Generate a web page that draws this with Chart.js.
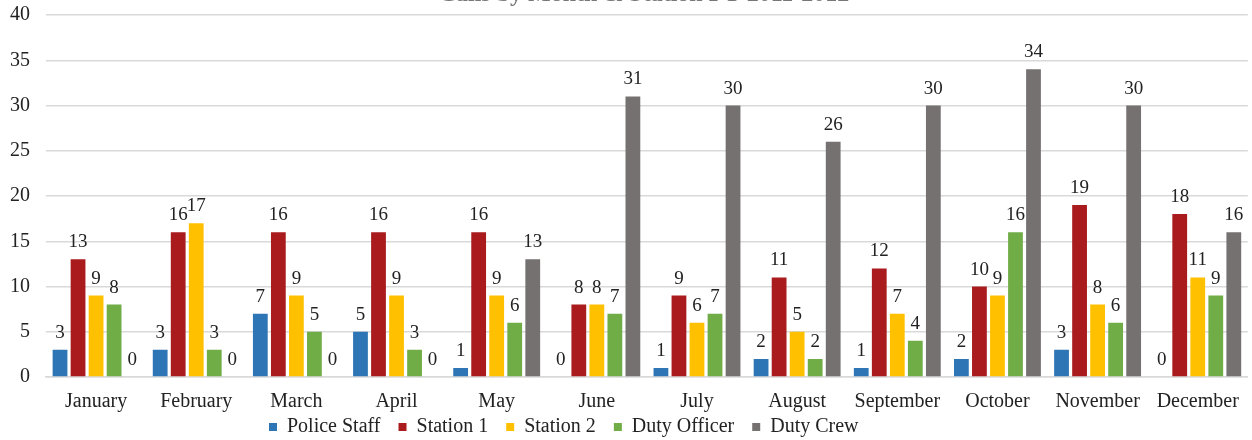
<!DOCTYPE html>
<html>
<head>
<meta charset="utf-8">
<script src="https://cdn.jsdelivr.net/npm/chart.js@4"></script>
<style>
  html, body { margin: 0; padding: 0; background: #fff; }
  #wrap { width: 1252px; height: 440px; position: relative; }
</style>
</head>
<body>
<div id="wrap"><canvas id="calls-chart"></canvas></div>
<script>
const months = ['January', 'February', 'March', 'April', 'May', 'June', 'July', 'August', 'September', 'October', 'November', 'December'];
const policeStaff = [3, 3, 7, 5, 1, 0, 1, 2, 1, 2, 3, 0];
const station1 = [13, 16, 16, 16, 16, 8, 9, 11, 12, 10, 19, 18];
const station2 = [9, 17, 9, 9, 9, 8, 6, 5, 7, 9, 8, 11];
const dutyOfficer = [8, 3, 5, 3, 6, 7, 7, 2, 4, 16, 6, 9];
const dutyCrew = [0, 0, 0, 0, 13, 31, 30, 26, 30, 34, 30, 16];
const yTicks = [0, 5, 10, 15, 20, 25, 30, 35, 40];

const serif = '"Liberation Serif", "Times New Roman", serif';

(function () {
    const ctx = document.getElementById('calls-chart');

    // numbers above every bar, zeros included
    const valueLabels = {
        id: 'valueLabels',
        afterDatasetsDraw(chart) {
            const c = chart.ctx;
            c.save();
            c.font = '19px ' + serif;
            c.fillStyle = '#222';
            c.textAlign = 'center';
            c.textBaseline = 'alphabetic';
            chart.data.datasets.forEach((ds, i) => {
                chart.getDatasetMeta(i).data.forEach((bar, j) => {
                    c.fillText(ds.data[j], bar.x, bar.y - 12);
                });
            });
            c.restore();
        }
    };

    // legend keeps wide item gaps but sits close under the month names,
    // starting a bit left of centre
    const legendNudge = {
        id: 'legendNudge',
        afterLayout(chart) {
            const lg = chart.legend;
            lg.top -= 28;
            lg.bottom -= 28;
            lg.left += 251;
            lg.right += 251;
        }
    };

    // title sits mostly above the top edge
    const clippedTitle = {
        id: 'clippedTitle',
        afterDraw(chart) {
            const c = chart.ctx;
            c.save();
            c.font = 'bold 24px ' + serif;
            c.fillStyle = '#777';
            c.textAlign = 'center';
            c.textBaseline = 'alphabetic';
            c.fillText('Calls by Month & Station FY 2011-2012', 644, 1);
            c.restore();
        }
    };

    const mk = (label, data, color) => ({
        label: label,
        data: data,
        backgroundColor: color,
        borderWidth: 0,
        categoryPercentage: 0.9,
        barPercentage: 0.82
    });

    new Chart(ctx, {
        type: 'bar',
        data: {
            labels: months,
            datasets: [
                mk('Police Staff', policeStaff, '#2E75B6'),
                mk('Station 1', station1, '#A91B1D'),
                mk('Station 2', station2, '#FFC000'),
                mk('Duty Officer', dutyOfficer, '#70AD47'),
                mk('Duty Crew', dutyCrew, '#767171')
            ]
        },
        options: {
            responsive: true,
            maintainAspectRatio: false,
            animation: false,
            layout: { padding: { top: 15, right: 4, bottom: -35, left: 0 } },
            scales: {
                y: {
                    min: 0,
                    max: 40,
                    afterBuildTicks: s => { s.ticks = yTicks.map(v => ({ value: v })); },
                    afterFit: s => {
                        s.width = 46;
                        s.paddingTop = 0;
                        s.paddingBottom = 0;
                    },
                    border: { display: false },
                    grid: { color: '#d9d9d9', lineWidth: 1.5, drawTicks: false },
                    ticks: { padding: 16, color: '#222', font: { family: serif, size: 20 } }
                },
                x: {
                    border: { color: '#d9d9d9', width: 1.5 },
                    grid: { display: false, drawTicks: false },
                    ticks: { padding: 13, color: '#222', font: { family: serif, size: 20 } }
                }
            },
            plugins: {
                legend: {
                    position: 'bottom',
                    align: 'start',
                    labels: {
                        boxWidth: 8,
                        boxHeight: 8,
                        padding: 18,
                        color: '#222',
                        font: { family: serif, size: 20 }
                    }
                },
                tooltip: { enabled: false }
            }
        },
        plugins: [valueLabels, legendNudge, clippedTitle]
    });
})();
</script>
</body>
</html>
